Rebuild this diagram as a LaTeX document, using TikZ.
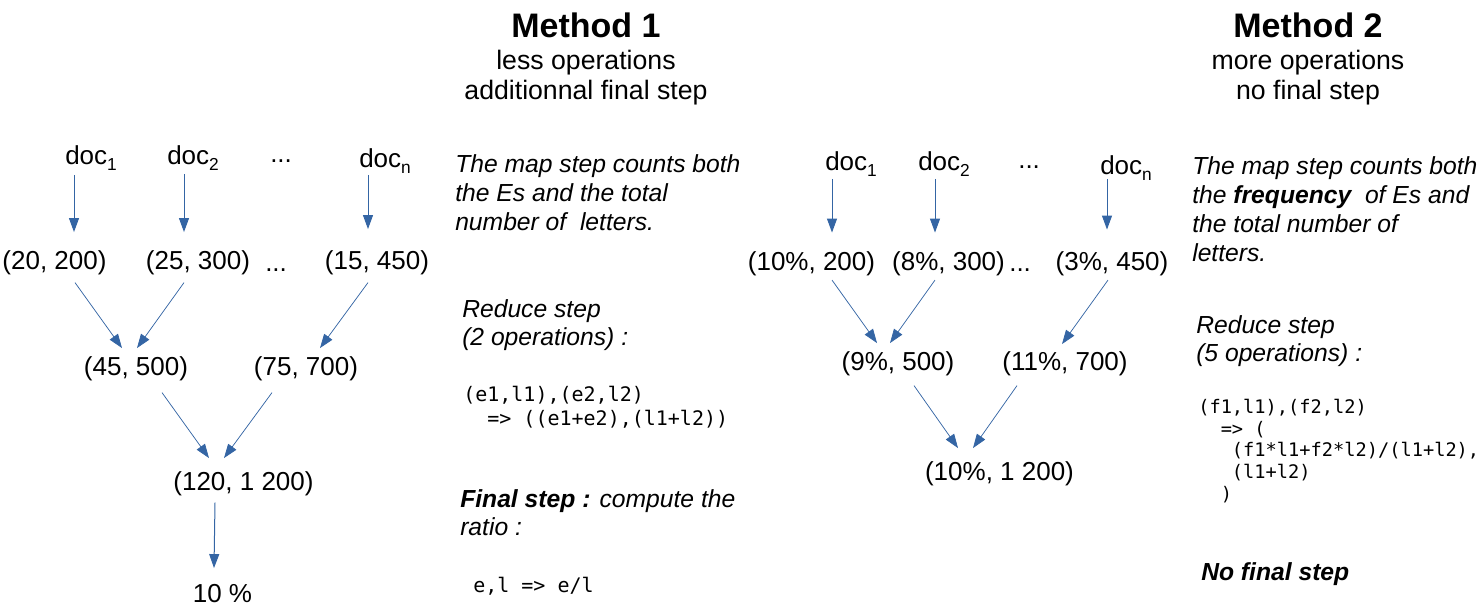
\documentclass[tikz,border=0pt]{standalone}
\usepackage{fontspec}
\setmainfont{Liberation Sans}
\setmonofont{DejaVu Sans Mono}
\usetikzlibrary{arrows.meta}
\definecolor{arrblue}{RGB}{52,101,164}
\newcommand\docsub[1]{\raisebox{-4.5pt}{\fontsize{13}{14}\selectfont #1}}
\tikzset{
  tup/.style={inner sep=0pt, anchor=base, font=\fontsize{19.5}{23}\selectfont, text height=14pt, text depth=4pt},
  docnode/.style={inner sep=0pt, anchor=base west, font=\fontsize{19.5}{23}\selectfont},
  ttl/.style={inner sep=0pt, anchor=base, font=\fontsize{25.5}{30}\selectfont\bfseries},
  subttl/.style={inner sep=0pt, anchor=base, font=\fontsize{20}{24}\selectfont},
  note/.style={inner sep=0pt, anchor=base west, align=left, font=\fontsize{18.5}{21.75}\selectfont\itshape},
  notetwo/.style={inner sep=0pt, anchor=base west, align=left, font=\fontsize{18.5}{21}\selectfont\itshape},
  codea/.style={inner sep=0pt, anchor=base west, align=left, font=\fontsize{15}{17.5}\selectfont\ttfamily},
  codeb/.style={inner sep=0pt, anchor=base west, align=left, font=\fontsize{14}{16.2}\selectfont\ttfamily},
  arr/.style={draw=arrblue, line width=0.75pt, -{Triangle[length=10.5pt,width=7.5pt]}},
  arrd/.style={draw=arrblue, line width=0.55pt, -{Triangle[length=10.5pt,width=7.5pt]}}
}
\begin{document}
\begin{tikzpicture}[x=0.75pt,y=-0.75pt]
\useasboundingbox (0,0) rectangle (1484,616);
% titles
\node[ttl] (t1) at (586,38) {Method 1};
\node[subttl] (t1b) at (586,70) {less operations};
\node[subttl] (t1c) at (586,100) {additionnal final step};
\node[ttl] (t2) at (1308,38) {Method 2};
\node[subttl] (t2b) at (1308,70) {more operations};
\node[subttl] (t2c) at (1308,100) {no final step};
% left tree
\node[docnode] (d1) at (65,165) {doc\docsub{1}};
\node[docnode] (d2) at (167,165) {doc\docsub{2}};
\node[docnode] (dd) at (270,163) {...};
\node[docnode] (dn) at (359,168) {doc\docsub{n}};
\node[tup] (r1) at (54.5,270) {(20, 200)};
\node[tup] (r2) at (198,270) {(25, 300)};
\node[docnode] (rd) at (265,272) {...};
\node[tup] (r4) at (377,270) {(15, 450)};
\node[tup] (m1) at (136,375) {(45, 500)};
\node[tup] (m2) at (306,375) {(75, 700)};
\node[tup] (f) at (243.5,490) {(120, 1 200)};
\node[tup] (res) at (222.5,602) {10 \%};
\draw[arr] ([shift={(9,10)}]d1.base west) -- ([shift={(19.5,-19)}]r1.north);
\draw[arr] ([shift={(17,9)}]d2.base west) -- ([shift={(-14,-19)}]r2.north);
\draw[arr] ([shift={(9,7)}]dn.base west) -- ([shift={(-9,-22)}]r4.north);
\draw[arrd] ([shift={(20.5,7)}]r1.south) -- ([shift={(-14,-8)}]m1.north);
\draw[arrd] ([shift={(-14,7)}]r2.south) -- ([shift={(1,-8)}]m1.north);
\draw[arrd] ([shift={(-9,7)}]r4.south) -- ([shift={(14,-8)}]m2.north);
\draw[arrd] ([shift={(26,12)}]m1.south) -- ([shift={(-34.5,-13)}]f.north);
\draw[arrd] ([shift={(-34,12)}]m2.south) -- ([shift={(-19.5,-13)}]f.north);
\draw[arr] ([shift={(-28.5,7)}]f.south) -- ([shift={(-8.5,-15)}]res.north);
% right tree
\node[docnode] (D1) at (825,171) {doc\docsub{1}};
\node[docnode] (D2) at (918,171) {doc\docsub{2}};
\node[docnode] (DD) at (1018,169) {...};
\node[docnode] (Dn) at (1100,175) {doc\docsub{n}};
\node[tup] (R1) at (811.5,270.5) {(10\%, 200)};
\node[tup] (R2) at (948.5,270.5) {(8\%, 300)};
\node[docnode] (RD) at (1009,272) {...};
\node[tup] (R4) at (1112,270.5) {(3\%, 450)};
\node[tup] (M1) at (898,370) {(9\%, 500)};
\node[tup] (M2) at (1065,370) {(11\%, 700)};
\node[tup] (F) at (999.5,480) {(10\%, 1 200)};
\draw[arr] ([shift={(7,8)}]D1.base west) -- ([shift={(20.5,-19)}]R1.north);
\draw[arr] ([shift={(17,8)}]D2.base west) -- ([shift={(-13.5,-19)}]R2.north);
\draw[arr] ([shift={(7,4)}]Dn.base west) -- ([shift={(-5,-22)}]R4.north);
\draw[arrd] ([shift={(20.5,4)}]R1.south) -- ([shift={(-21,-8)}]M1.north);
\draw[arrd] ([shift={(-13.5,4)}]R2.south) -- ([shift={(-8,-8)}]M1.north);
\draw[arrd] ([shift={(-4,4)}]R4.south) -- ([shift={(-3,-7)}]M2.north);
\draw[arrd] ([shift={(16,10)}]M1.south) -- ([shift={(-41.5,-13)}]F.north);
\draw[arrd] ([shift={(-48,10)}]M2.south) -- ([shift={(-26.5,-13)}]F.north);
% left notes (base anchor = baseline of the last line)
\node[note] (n1) at (455,231) {The map step counts both\\the Es and the total\\number of\ \ letters.};
\node[notetwo] (n2) at (462,346) {Reduce step\\(2 operations) :};
\node[codea] (c1) at (463,425) {(e1,l1),(e2,l2)\\\hphantom{00}=> ((e1+e2),(l1+l2))};
\node[notetwo] (n3) at (460,535) {\textbf{Final step :} compute the\\ratio :};
\node[codea] (c2) at (473,592) {e,l => e/l};
% right notes
\node[note] (n4) at (1192,262) {The map step counts both\\the \textbf{frequency}\ \ of Es and\\the total number of\\letters.};
\node[notetwo] (n5) at (1196,362) {Reduce step\\(5 operations) :};
\node[codeb] (c3) at (1198,500) {(f1,l1),(f2,l2)\\\hphantom{00}=> (\\\hphantom{000}(f1*l1+f2*l2)/(l1+l2),\\\hphantom{000}(l1+l2)\\\hphantom{00})};
\node[notetwo] (n6) at (1201,580) {\textbf{No final step}};
\end{tikzpicture}
\end{document}
